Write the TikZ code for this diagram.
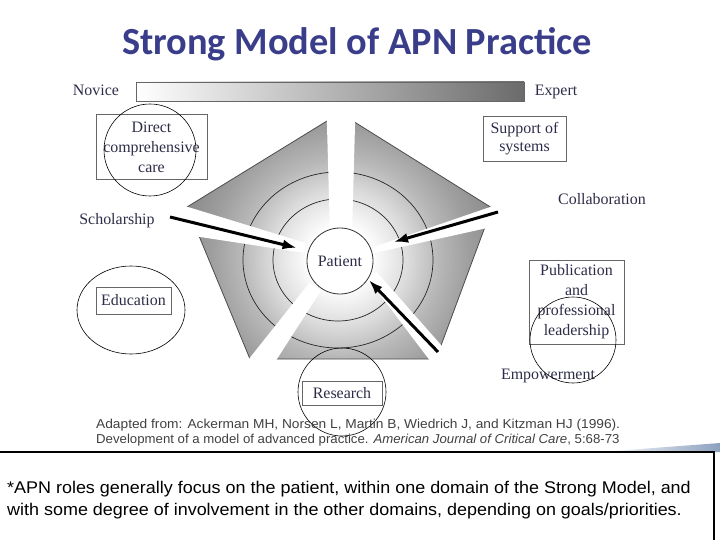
\documentclass[tikz,border=0pt]{standalone}
\usepackage{fontspec}
\setmainfont{Liberation Serif}
\newfontfamily\titlefont{Carlito}
\newfontfamily\notefont{Liberation Sans}[FakeStretch=1.06]
\newfontfamily\citefont{Liberation Sans}[FakeStretch=1.02]
\usetikzlibrary{calc,arrows.meta}
\definecolor{titleblue}{RGB}{58,62,138}
\definecolor{labelink}{RGB}{44,44,72}
\definecolor{swoosh}{RGB}{140,160,190}
\pgfdeclareradialshading{pentshade}{\pgfpointorigin}{color(0bp)=(white); color(4bp)=(white); color(9bp)=(black!14); color(13bp)=(black!28); color(17bp)=(black!38); color(22bp)=(black!47); color(25bp)=(black!49); color(50bp)=(black!49)}

\begin{document}
\begin{tikzpicture}[x=1bp, y=-1bp,
    lab/.style={text=labelink, font=\fontsize{16}{20}\selectfont, inner sep=0pt},
    rolebox/.style={lab, draw=black!60, line width=0.8bp, align=center},
    handring/.style={draw=black, line width=0.6bp},
    bigarrow/.style={line width=3bp, -{Latex[length=14bp,width=10bp]}},
    ring/.style={draw=black!85, line width=0.7bp}]
\useasboundingbox (0,0) rectangle (720,540);

% title
\node[text=titleblue, font=\titlefont\bfseries\fontsize{38.5}{42}\selectfont] (title) at (357,44) {Strong Model of APN Practice};

% novice -> expert bar
\node[lab] (novice) at (96,90) {Novice};
\shade[left color=white, right color=black!58, draw=black!60, line width=0.8bp] (136,82) rectangle (524,101);
\node[lab] (expert) at (556,91.5) {Expert};

% pentagon with its rings
\begin{scope}
  \clip (340,113) -- (187,207) -- (250,359) -- (436,359) -- (492,208) -- cycle;
  \shade[shading=pentshade] (340,258) circle (190);
\end{scope}
\draw[black!70, line width=0.8bp] (340,113) -- (187,207) -- (250,359) -- (436,359) -- (492,208) -- cycle;
\draw[ring] (338,260) ellipse (65 and 61);
\draw[ring] (338,260) ellipse (95 and 88);

% white gaps between the domains
\foreach \nx/\ny/\fx/\fy/\wn/\wf in {341/235/341/110/11/14.5, 305/248/178/219/5/14.5, 315/287/257/368/7/12, 372/275/448/368/5.5/10, 374/250/502/214/3/10.5} {
  \fill[white] ($(\nx,\ny)!\wn pt!90:(\fx,\fy)$) -- ($(\fx,\fy)!\wf pt!-90:(\nx,\ny)$)
    -- ($(\fx,\fy)!\wf pt!90:(\nx,\ny)$) -- ($(\nx,\ny)!\wn pt!-90:(\fx,\fy)$) -- cycle;
}

\node[circle, draw=black!80, fill=white, line width=0.8bp, minimum size=66bp, inner sep=0pt, text=labelink, font=\fontsize{16}{20}\selectfont] (patient) at (340,261) {Patient};

% domain labels
\node[lab] (schol) at (117,221) {Scholarship};
\node[lab] (collab) at (602,199) {Collaboration};
\node[lab] (empower) at (548,376) {Empowerment};

\node[rolebox, minimum width=111bp, minimum height=65bp] (direct) at (151.5,147) {Direct\\comprehensive\\care};
\node[rolebox, minimum width=83bp, minimum height=45bp, font=\fontsize{16}{18}\selectfont] (support) at (524.5,139) {Support of\\systems};
\node[rolebox, minimum width=75bp, minimum height=27bp] (educ) at (133.5,300.5) {Education};
\node[rolebox, minimum width=80bp, minimum height=24bp] (research) at (342,393) {Research};
\node[rolebox, minimum width=95bp, minimum height=84bp] (pub) at (576.5,302) {Publication\\and\\professional\\leadership};

% arrows into the patient
\coordinate (scholtail) at (170,217);
\coordinate (collabtail) at (498,212);
\coordinate (emptail) at (438,352);
\draw[bigarrow, shorten >=12bp] (scholtail) -- (patient.162);
\draw[bigarrow, shorten >=24bp] (collabtail) -- (patient.22);
\draw[bigarrow, shorten >=1.5bp] (emptail) -- (patient.-33);

% hand drawn rings
\draw[handring] (150,150) circle (46);
\draw[handring] (131,310) ellipse (54 and 44);
\draw[handring] (342,392) circle (44);
\draw[handring] (573,340) circle (43);

% citation
\node[anchor=west, inner sep=0pt, text=black!75, font=\notefont\fontsize{13}{15}\selectfont] (cite1) at (96,425) {Adapted from: Ackerman MH, Norsen L, Martin B, Wiedrich J, and Kitzman HJ (1996).};
\node[anchor=west, inner sep=0pt, text=black!75, font=\citefont\fontsize{13}{15}\selectfont] (cite2) at (96,440) {Development of a model of advanced practice. \textit{American Journal of Critical Care}, 5:68-73};

% note box
\shade[left color=white, right color=swoosh] (600,452) -- (720,443) -- (720,452) -- cycle;
\draw[black, line width=1.2bp] (-1,452) rectangle (714,545);
\node[anchor=west, inner sep=0pt, align=left, font=\notefont\fontsize{17}{22}\selectfont] (note) at (7,500) {*APN roles generally focus on the patient, within one domain of the Strong Model, and\\with some degree of involvement in the other domains, depending on goals/priorities.};
\end{tikzpicture}
\end{document}
